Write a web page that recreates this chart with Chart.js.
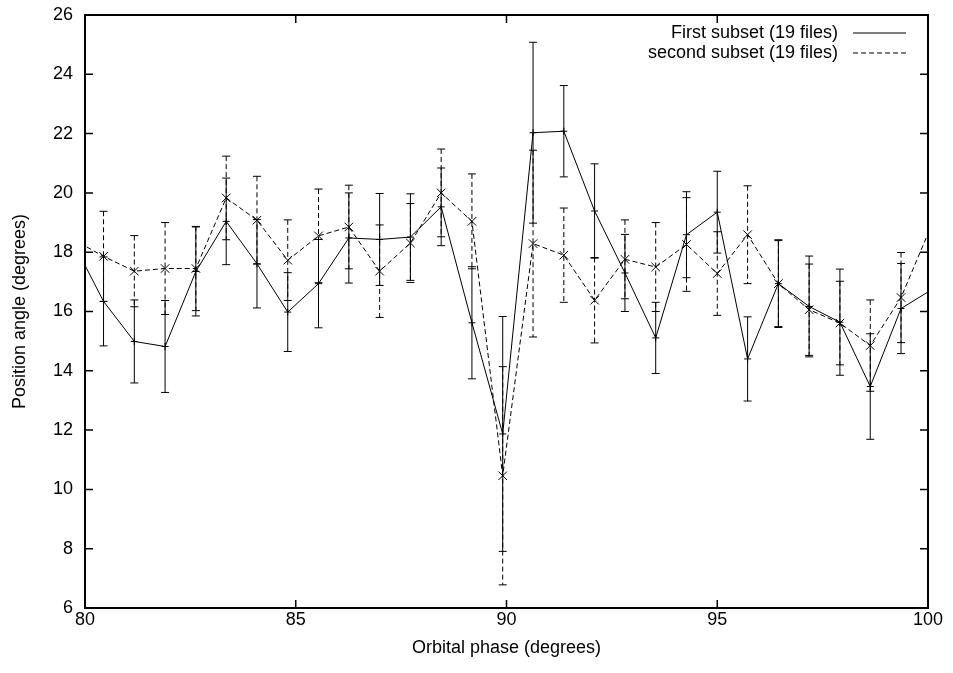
<!DOCTYPE html>
<html>
<head>
<meta charset="utf-8">
<script src="https://cdn.jsdelivr.net/npm/chart.js@4"></script>
<style>
  body { margin: 0; background: #fff; }
</style>
</head>
<body>
<canvas id="chart" width="953" height="673"></canvas>
<script>
const phase = [79.71, 80.44, 81.17, 81.90, 82.63, 83.35, 84.08, 84.81, 85.54, 86.26,
  86.99, 87.72, 88.45, 89.18, 89.91, 90.63, 91.36, 92.09, 92.81, 93.54,
  94.27, 95.00, 95.72, 96.45, 97.18, 97.91, 98.63, 99.36, 100.09];

const firstAngle = [18.36, 16.34, 14.99, 14.82, 17.35, 19.04, 17.61, 15.98, 16.94, 18.48,
  18.43, 18.51, 19.53, 15.62, 11.87, 22.03, 22.08, 19.39, 17.30, 15.11,
  18.59, 19.35, 14.40, 16.94, 16.17, 15.64, 13.47, 16.10, 16.74];
const firstErr = [1.50, 1.50, 1.40, 1.55, 1.50, 1.46, 1.49, 1.33, 1.49, 1.52,
  1.55, 1.46, 1.31, 1.89, 3.96, 3.05, 1.54, 1.59, 1.30, 1.20,
  1.45, 1.38, 1.42, 1.48, 1.70, 1.79, 1.78, 1.52, 1.50];

const secondAngle = [18.44, 17.86, 17.36, 17.45, 17.45, 19.83, 19.08, 17.73, 18.55, 18.85,
  17.36, 18.31, 20.00, 19.04, 10.46, 18.29, 17.90, 16.38, 17.76, 17.50,
  18.26, 17.28, 18.59, 16.94, 16.06, 15.61, 14.85, 16.47, 18.93];
const secondErr = [1.50, 1.52, 1.20, 1.55, 1.42, 1.41, 1.48, 1.36, 1.58, 1.41,
  1.56, 1.33, 1.48, 1.60, 3.68, 3.15, 1.59, 1.44, 1.33, 1.50,
  1.58, 1.41, 1.65, 1.45, 1.54, 1.41, 1.54, 1.52, 1.50];

const xTicks = [80, 85, 90, 95, 100];
const yTicks = [6, 8, 10, 12, 14, 16, 18, 20, 22, 24, 26];

const FONT = { family: '"Liberation Sans", Arial, sans-serif', size: 18 };

function toPoints(xs, ys, errs) {
  return xs.map((x, i) => ({ x: x, y: ys[i], err: errs[i] }));
}

// vertical error bars with small caps, drawn in data coordinates
const errorBars = {
  id: 'errorBars',
  afterDatasetsDraw(chart) {
    const { ctx, chartArea: a, scales: { x, y } } = chart;
    ctx.save();
    ctx.beginPath();
    ctx.rect(a.left, a.top, a.width, a.height);
    ctx.clip();
    chart.data.datasets.forEach(ds => {
      ctx.strokeStyle = ds.borderColor;
      ctx.lineWidth = 1;
      ds.data.forEach(p => {
        if (p.x < x.min || p.x > x.max) return;
        const px = x.getPixelForValue(p.x);
        const top = y.getPixelForValue(p.y + p.err);
        const bot = y.getPixelForValue(p.y - p.err);
        ctx.setLineDash(ds.borderDash || []);
        ctx.beginPath();
        ctx.moveTo(px, top);
        ctx.lineTo(px, bot);
        ctx.stroke();
        ctx.setLineDash([]);
        ctx.beginPath();
        ctx.moveTo(px - 4, top); ctx.lineTo(px + 4, top);
        ctx.moveTo(px - 4, bot); ctx.lineTo(px + 4, bot);
        ctx.stroke();
      });
    });
    ctx.restore();
  }
};

// gnuplot style frame: border all round, ticks pointing inward, mirrored
const frame = {
  id: 'frame',
  afterDraw(chart) {
    const { ctx, chartArea: a, scales: { x, y } } = chart;
    const len = 8;
    ctx.save();
    ctx.strokeStyle = '#000';
    ctx.lineWidth = 1.5;
    ctx.beginPath();
    x.ticks.forEach(t => {
      const px = x.getPixelForValue(t.value);
      ctx.moveTo(px, a.bottom); ctx.lineTo(px, a.bottom - len);
      ctx.moveTo(px, a.top); ctx.lineTo(px, a.top + len);
    });
    y.ticks.forEach(t => {
      const py = y.getPixelForValue(t.value);
      ctx.moveTo(a.left, py); ctx.lineTo(a.left + len, py);
      ctx.moveTo(a.right, py); ctx.lineTo(a.right - len, py);
    });
    ctx.stroke();
    ctx.lineWidth = 2;
    ctx.strokeRect(a.left, a.top, a.width, a.height);
    ctx.restore();
  }
};

// key in the top right corner: text first, line sample after it
const key = {
  id: 'key',
  afterDraw(chart) {
    const { ctx, chartArea: a } = chart;
    ctx.save();
    ctx.font = FONT.size + 'px ' + FONT.family;
    ctx.textAlign = 'right';
    ctx.textBaseline = 'middle';
    ctx.fillStyle = '#000';
    chart.data.datasets.forEach((ds, i) => {
      const yy = a.top + 18 + i * 20;
      ctx.fillText(ds.label, a.right - 90, yy);
      ctx.strokeStyle = ds.borderColor;
      ctx.lineWidth = 1;
      ctx.setLineDash(ds.borderDash || []);
      ctx.beginPath();
      ctx.moveTo(a.right - 75, yy);
      ctx.lineTo(a.right - 22, yy);
      ctx.stroke();
    });
    ctx.restore();
  }
};

new Chart(document.getElementById('chart'), {
  type: 'line',
  data: {
    datasets: [{
      label: 'First subset (19 files)',
      data: toPoints(phase, firstAngle, firstErr),
      borderColor: '#000',
      borderWidth: 1,
      pointStyle: 'cross',
      pointRadius: 3.5,
      pointBorderColor: '#000',
      pointBorderWidth: 1,
      tension: 0
    }, {
      label: 'second subset (19 files)',
      data: toPoints(phase, secondAngle, secondErr),
      borderColor: '#000',
      borderWidth: 1,
      borderDash: [5, 3],
      pointStyle: 'crossRot',
      pointRadius: 6,
      pointBorderColor: '#000',
      pointBorderWidth: 1,
      tension: 0
    }]
  },
  options: {
    responsive: false,
    animation: false,
    layout: { padding: { top: 15, right: 25, left: 0, bottom: 0 } },
    plugins: {
      legend: { display: false },
      tooltip: { enabled: false }
    },
    scales: {
      x: {
        type: 'linear',
        min: 80,
        max: 100,
        afterBuildTicks: s => { s.ticks = xTicks.map(v => ({ value: v })); },
        afterFit: s => { s.height = 65; },
        grid: { display: false, drawTicks: false },
        border: { display: false },
        ticks: { color: '#000', font: FONT, padding: 1, maxRotation: 0 },
        title: {
          display: true,
          text: 'Orbital phase (degrees)',
          color: '#000',
          font: FONT,
          padding: { top: 0, bottom: 14 }
        }
      },
      y: {
        min: 6,
        max: 26,
        afterBuildTicks: s => { s.ticks = yTicks.map(v => ({ value: v })); },
        afterFit: s => { s.width = 85; s.paddingTop = 10; s.paddingBottom = 10; },
        grid: { display: false, drawTicks: false },
        border: { display: false },
        ticks: { color: '#000', font: FONT, padding: 12 },
        title: {
          display: true,
          text: 'Position angle (degrees)',
          color: '#000',
          font: FONT,
          padding: { top: 9, bottom: 0 }
        }
      }
    }
  },
  plugins: [errorBars, frame, key]
});
</script>
</body>
</html>
